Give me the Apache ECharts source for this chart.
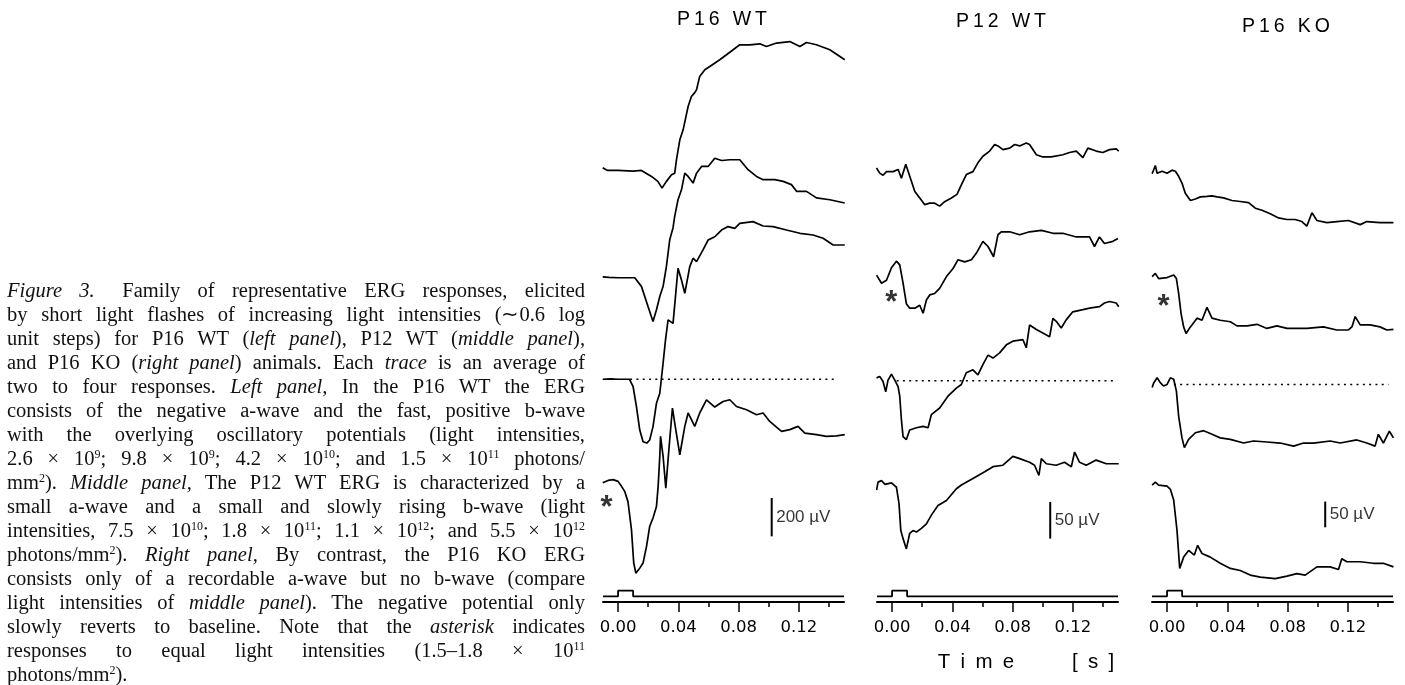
<!DOCTYPE html>
<html>
<head>
<meta charset="utf-8">
<title>ERG responses P16 WT / P12 WT / P16 KO</title>
<script src="https://cdn.jsdelivr.net/npm/echarts@6/dist/echarts.min.js"></script>
<style>
html, body { margin: 0; padding: 0; background: #fff; }
#chart { position: absolute; left: 0; top: 0; width: 1405px; height: 685px; }
#caption { position: absolute; left: 7px; top: 278px; width: 578px;
  font-family: "Liberation Serif", "Times New Roman", serif; font-size: 20.5px; line-height: 24px; color: #111; }
#caption div { height: 24px; text-align: justify; text-align-last: justify; }
#caption div.last { text-align-last: left; }
#caption sup { font-size: 12px; line-height: 0; vertical-align: 7px; }
</style>
</head>
<body>
<div id="chart"></div>
<div id="caption">
<div><i>Figure 3.</i>&ensp; Family of representative ERG responses, elicited</div>
<div>by short light flashes of increasing light intensities (∼0.6 log</div>
<div>unit steps) for P16 WT (<i>left panel</i>), P12 WT (<i>middle panel</i>),</div>
<div>and P16 KO (<i>right panel</i>) animals. Each <i>trace</i> is an average of</div>
<div>two to four responses. <i>Left panel,</i> In the P16 WT the ERG</div>
<div>consists of the negative a-wave and the fast, positive b-wave</div>
<div>with the overlying oscillatory potentials (light intensities,</div>
<div>2.6 × 10<sup>9</sup>; 9.8 × 10<sup>9</sup>; 4.2 × 10<sup>10</sup>; and 1.5 × 10<sup>11</sup> photons/</div>
<div>mm<sup>2</sup>). <i>Middle panel,</i> The P12 WT ERG is characterized by a</div>
<div>small a-wave and a small and slowly rising b-wave (light</div>
<div>intensities, 7.5 × 10<sup>10</sup>; 1.8 × 10<sup>11</sup>; 1.1 × 10<sup>12</sup>; and 5.5 × 10<sup>12</sup></div>
<div>photons/mm<sup>2</sup>). <i>Right panel,</i> By contrast, the P16 KO ERG</div>
<div>consists only of a recordable a-wave but no b-wave (compare</div>
<div>light intensities of <i>middle panel</i>). The negative potential only</div>
<div>slowly reverts to baseline. Note that the <i>asterisk</i> indicates</div>
<div>responses to equal light intensities (1.5–1.8 × 10<sup>11</sup></div>
<div class="last">photons/mm<sup>2</sup>).</div>
</div>
<script>
// time axis (ms), labels shown in s
var TIME_LABELS = [0, 40, 80, 120];
var TIME_MINOR = [20, 60, 100, 140];
var STIM_T = [-10, 0, 0, 10, 10, 150];
var STIM_V = [0, 0, 1, 1, 0, 0];

// traces: [ms, uV relative to the trace's own baseline], dimmest flash first

// P16 WT
var p16wtA = [[-10.2, 14], [-7, 0], [0, 0], [10, -3], [15.5, 0], [22.2, -31], [26.4, -57], [29.2, -92], [32.1, -57],
  [35.5, -22], [37.6, -14], [38.8, 56], [41, 160], [43.2, 212], [46.5, 334], [48.7, 386], [50.8, 405], [52.1, 421],
  [54.2, 491], [57.6, 526], [60.9, 543], [67.5, 578], [72, 604], [76.4, 630], [80.8, 656], [87.5, 656], [94.1, 661],
  [98.5, 647], [105.2, 665], [114, 673], [120.7, 647], [125.1, 668], [131.7, 656], [140.6, 630], [150.5, 578]];
var p16wtB = [[-10.2, 5], [-6, 2], [0, 0], [4.4, 0], [11.1, 0], [15.5, -45], [19.9, -150], [23.2, -228], [25.5, -167],
  [27.7, -98], [29.9, -45], [32.1, 59], [34.3, 198], [36.5, 261], [37.6, 320], [39.8, 407], [42.1, 459], [44.3, 546],
  [46.5, 529], [49.8, 494], [52.1, 546], [55.4, 581], [59.8, 581], [64.2, 624], [68.7, 612], [74.2, 616], [80.8, 616],
  [86.3, 564], [91.9, 529], [96.3, 512], [104.1, 512], [109.6, 503], [115.1, 486], [118.5, 451], [125.1, 451],
  [131.7, 417], [140.6, 407], [150.5, 390]];
var p16wtC = [[-10.2, 0], [-5, 2], [0, 0], [7.6, 0], [10, -39], [12.2, -143], [14.4, -265], [16.6, -326], [19.1, -333],
  [21, -317], [23.2, -247], [25.5, -125], [27.7, -73], [29.9, 84], [31.5, 206], [33.2, 310], [36.5, 292], [39.8, 579],
  [42.1, 518], [44.3, 449], [47.6, 588], [49.8, 632], [52.1, 614], [56.4, 675], [59.8, 727], [64.2, 744], [68.7, 779],
  [73, 797], [77.5, 788], [80.8, 814], [89.6, 823], [96.3, 800], [102.9, 797], [111.8, 779], [120.7, 762],
  [129.5, 753], [136.1, 736], [142.8, 701], [150.5, 701]];
var p16wtD = [[-10.2, 0], [-6.6, 12], [-3.3, 16], [0, 7], [2.3, -19], [4.4, -45], [6.6, -100], [8.9, -245],
  [10.4, -419], [11.8, -472], [14.4, -446], [16.6, -419], [18.9, -332], [21, -228], [23.2, -184], [25.5, -124],
  [26.6, -19], [27.7, 137], [28.2, 242], [29.9, 138], [31.7, -28], [33.9, 189], [36.1, 390], [38.3, 277], [41, 146],
  [44.3, 294], [46.5, 364], [50.9, 294], [54.2, 364], [58.7, 433], [64.2, 395], [69.7, 424], [74.2, 433], [78.6, 398],
  [85.3, 381], [91.9, 355], [96.3, 364], [100.7, 320], [108.5, 268], [114, 277], [119.5, 294], [124, 259],
  [131.7, 251], [138.4, 242], [145, 245], [150.5, 251]];
var p16wtOffsets = [2190, 1630, 1100, 560];

// P12 WT
var p12wtA = [[-10.3, 5], [-8.2, -2], [-6, -5], [-3.7, 0], [0.7, 0], [4, 3], [6.2, -9], [9.1, 10], [11.7, -6],
  [15.1, -27], [18.4, -36], [21.7, -45], [25, -43], [28.3, -43], [31.6, -47], [34.9, -41], [39.4, -36], [43.1, -31],
  [46, -18], [49.3, -4], [53.7, 0], [57, 12], [60.3, 21], [64.8, 28], [68.1, 37], [70.3, 35], [73.6, 30], [78.1, 32],
  [81.4, 37], [84.7, 35], [89.1, 39], [91.3, 37], [95.8, 23], [100.1, 20], [105.7, 20], [113.4, 23], [117.8, 26],
  [122.3, 28], [126.7, 19], [130, 32], [135.5, 28], [139.9, 26], [144.4, 30], [148.8, 31], [150.5, 28]];
var p12wtB = [[-10.3, 4], [-7, -7], [-3.7, -3], [-0.4, 14], [2.9, 23], [5.1, 18], [7.3, -7], [9.5, -35], [11.7, -41],
  [15.1, -41], [18.4, -37], [20.6, -48], [22.8, -30], [25, -23], [28.3, -21], [31.6, -14], [36.1, 2], [40.5, 13],
  [43.8, 25], [48.2, 22], [52.7, 25], [56, 34], [60.3, 50], [63.7, 43], [67.4, 29], [70.3, 59], [72.5, 63], [78.1, 63],
  [84.7, 59], [91.3, 63], [99.1, 65], [106.8, 61], [113.4, 61], [122.3, 56], [131.1, 56], [134.4, 43], [137.7, 56],
  [141, 47], [146.6, 50], [150, 54]];
var p12wtC = [[-10.3, 4], [-8.2, 6], [-6, -1], [-4.2, -15], [-2.7, 1], [-0.4, 9], [1.8, 1], [4, -8], [5.1, -21],
  [6.2, -53], [7.3, -76], [9.5, -80], [11.7, -67], [16.2, -64], [20.6, -62], [23.9, -64], [26.1, -46], [31.6, -37],
  [37.1, -21], [42.7, -10], [46, -5], [49.3, 11], [53.7, 15], [57, 8], [60.3, 22], [63.7, 35], [67, 31], [71.4, 38],
  [75.9, 49], [80.2, 54], [86.9, 56], [89.1, 45], [91.3, 76], [95.8, 70], [100.1, 65], [104.6, 60], [106.8, 85],
  [109, 81], [112.3, 72], [115.6, 83], [120, 94], [126.7, 97], [131.1, 99], [137.7, 101], [141, 106], [144.4, 108],
  [148.8, 106], [150.5, 101]];
var p12wtD = [[-10.3, -8], [-9.3, 3], [-7, 5], [-4.8, 0], [-0.4, 2], [2.9, -4], [4.6, -26], [5.8, -63], [7.3, -74],
  [9.5, -88], [11.7, -67], [13.9, -63], [16.2, -65], [19.5, -60], [22.8, -54], [26.1, -42], [30.5, -29], [36.1, -22],
  [42.7, -6], [46, -1], [53.7, 8], [61.5, 17], [67, 24], [73.6, 26], [80.2, 38], [84.7, 35], [91.3, 30], [94.6, 26],
  [97.5, 12], [99.1, 35], [102.4, 28], [109, 26], [114.5, 30], [119, 24], [121.2, 44], [124.5, 30], [128.9, 26],
  [135.5, 33], [142.2, 28], [150.5, 28]];
var p12wtOffsets = [570, 425, 285, 144];

// P16 KO
var p16koA = [[-9.9, -4], [-7.8, 12], [-6.6, -3], [-3.3, 1], [0, -3], [3.3, 3], [5.5, 1], [7.7, -9], [9.9, -22],
  [12.1, -42], [15.5, -56], [18.8, -53], [22.1, -49], [26.5, -48], [29.8, -47], [33.2, -49], [37.5, -51], [43.1, -56],
  [48.6, -58], [54.1, -60], [58.6, -71], [63, -75], [68.5, -82], [74, -90], [79.6, -93], [85.1, -93], [89.5, -97],
  [92.8, -106], [96.2, -80], [99.5, -95], [106.1, -99], [112.7, -97], [120.4, -95], [128.2, -103], [132.6, -97],
  [141.4, -99], [150.3, -99]];
var p16koB = [[-9.9, 1], [-7.8, 7], [-5.6, -3], [0, -1], [4.4, 4], [6.2, -3], [7.7, -32], [9.3, -71], [11, -97],
  [12.6, -110], [15.5, -97], [19.9, -80], [23.2, -84], [26.5, -59], [29.8, -80], [35.3, -84], [42, -87], [46.4, -95],
  [53.1, -95], [59.7, -92], [66.3, -100], [72.9, -95], [79.6, -100], [86.2, -100], [92.8, -100], [103.8, -97],
  [112.7, -103], [120.4, -103], [122.7, -97], [124.9, -77], [128.2, -93], [134.8, -93], [141.4, -97], [145.9, -103],
  [150.3, -102]];
var p16koC = [[-9.9, -6], [-8.9, 3], [-6.6, 13], [-4.4, 3], [-2.3, -3], [0, 0], [2.2, 13], [4.4, 10], [6.2, -13],
  [7.7, -62], [9.9, -104], [11.5, -123], [14.3, -107], [18.8, -94], [24.3, -90], [29.8, -97], [35.3, -104], [42, -107],
  [50.8, -114], [57.4, -110], [66.3, -112], [75.1, -114], [84, -120], [90.6, -114], [97.2, -114], [108.3, -110],
  [114.9, -114], [126, -108], [132.6, -114], [138.1, -120], [140.3, -97], [143.6, -114], [147.6, -91], [150.3, -104]];
var p16koD = [[-9.9, 2], [-7.8, 8], [-5.6, 2], [0, 0], [2.2, -6], [4.4, -27], [6.6, -86], [8.4, -160], [11, -138],
  [14.3, -125], [18.1, -134], [20.3, -115], [23.2, -131], [28.7, -138], [35.3, -150], [42, -160], [48.6, -164],
  [55.2, -173], [61.9, -177], [71.8, -180], [79.6, -175], [86.2, -170], [91.7, -173], [99.5, -157], [108.3, -157],
  [113.8, -162], [116, -141], [119.4, -147], [128.2, -147], [137, -150], [143.6, -150], [150.3, -157]];
var p16koOffsets = [814, 609, 400, 202];

// baseline (dotted) of the third trace: [from ms, to ms]
var dottedRanges = [[8, 145], [3, 148], [4.5, 147]];
// calibration bars: [ms, lower uV, length uV]
var scaleBars = [[102, 280, 200], [105, 70, 50], [105, 122, 50]];
var scaleTexts = ['200 µV', '50 µV', '50 µV'];
// asterisk: [ms, uV relative to the marked trace, index of that trace]
var starPos = [[-7.7, -107, 3], [-0.6, -28, 1], [-2.3, -50, 1]];
var titles = ['P16 WT', 'P12 WT', 'P16 KO'];

var panels = [
  { traces: [p16wtA, p16wtB, p16wtC, p16wtD], offsets: p16wtOffsets, left: 603, uvPerPx: 5.22 },
  { traces: [p12wtA, p12wtB, p12wtC, p12wtD], offsets: p12wtOffsets, left: 877, uvPerPx: 1.3624 },
  { traces: [p16koA, p16koB, p16koC, p16koD], offsets: p16koOffsets, left: 1152, uvPerPx: 1.946 }
];

var TOP = 30, HEIGHT = 560, WIDTH = 241;
var grid = [], xAxis = [], yAxis = [], series = [];

function timeLabel(v) {
  return (v / 1000).toFixed(2);
}

panels.forEach(function (p, i) {
  grid.push({ left: p.left, top: TOP, width: WIDTH, height: HEIGHT });
  grid.push({ left: p.left, top: 585, width: WIDTH, height: 17 });

  xAxis.push({ gridIndex: 2 * i, type: 'value', min: -10, max: 150, show: false });
  xAxis.push({
    gridIndex: 2 * i + 1, type: 'value', min: -10, max: 150, position: 'bottom',
    splitLine: { show: false },
    axisLine: { onZero: false, lineStyle: { color: '#000', width: 2 } },
    axisTick: { customValues: TIME_LABELS, length: 10, lineStyle: { color: '#000', width: 1.5 } },
    axisLabel: { customValues: TIME_LABELS, formatter: timeLabel, margin: 17, color: '#000',
      fontFamily: 'DejaVu Sans', fontSize: 16.5 }
  });
  xAxis.push({
    gridIndex: 2 * i + 1, type: 'value', min: -10, max: 150, position: 'bottom',
    splitLine: { show: false },
    axisLine: { show: false, onZero: false },
    axisTick: { customValues: TIME_MINOR, length: 5, lineStyle: { color: '#000', width: 1.5 } },
    axisLabel: { show: false }
  });
  yAxis.push({ gridIndex: 2 * i, type: 'value', min: 0, max: HEIGHT * p.uvPerPx, show: false });
  yAxis.push({ gridIndex: 2 * i + 1, type: 'value', min: -1, max: 2, show: false });

  var xi = 3 * i, yi = 2 * i;
  p.traces.forEach(function (tr, k) {
    series.push({
      type: 'line', xAxisIndex: xi, yAxisIndex: yi, symbol: 'none',
      data: tr.map(function (d) { return [d[0], d[1] + p.offsets[k]]; }),
      lineStyle: { color: '#000', width: 1.7 }
    });
  });

  series.push({
    type: 'line', xAxisIndex: xi, yAxisIndex: yi, symbol: 'none',
    data: [[dottedRanges[i][0], p.offsets[2]], [dottedRanges[i][1], p.offsets[2]]],
    lineStyle: { color: '#000', width: 1.5, type: [2, 4.3] }
  });

  var b = scaleBars[i];
  series.push({
    type: 'line', xAxisIndex: xi, yAxisIndex: yi, symbol: 'none',
    data: [[b[0], b[1]], [b[0], b[1] + b[2]]],
    lineStyle: { color: '#000', width: 2 }
  });
  series.push({
    type: 'scatter', xAxisIndex: xi, yAxisIndex: yi, symbolSize: 1,
    itemStyle: { color: 'rgba(0,0,0,0)' },
    data: [[b[0], b[1] + b[2] / 2]],
    label: { show: true, position: 'right', distance: 4, formatter: scaleTexts[i], color: '#000',
      fontFamily: 'Liberation Sans', fontSize: 17 }
  });

  var s = starPos[i];
  series.push({
    type: 'scatter', xAxisIndex: xi, yAxisIndex: yi, symbolSize: 1,
    itemStyle: { color: 'rgba(0,0,0,0)' },
    data: [[s[0], p.offsets[s[2]] + s[1]]],
    label: { show: true, position: 'inside', formatter: '*', offset: [0, 5], color: '#000',
      fontFamily: 'Liberation Sans', fontWeight: 'bold', fontSize: 31 }
  });

  series.push({
    type: 'line', xAxisIndex: xi + 1, yAxisIndex: yi + 1, symbol: 'none',
    data: STIM_T.map(function (t, j) { return [t, STIM_V[j]]; }),
    lineStyle: { color: '#000', width: 1.8 }
  });
});

function spaced(str, sp) {
  return str.split('').join(sp);
}

var titleX = [722, 1001, 1286];
var titleY = [20, 22, 27];
var graphic = titles.map(function (t, i) {
  return {
    type: 'text', x: titleX[i], y: titleY[i],
    style: { text: spaced(t, '\u2009'), fill: '#000', font: '19.5px "Liberation Sans"', align: 'center', verticalAlign: 'middle' }
  };
});
graphic.push({
  type: 'text', x: 976, y: 662,
  style: { text: spaced('Time', '\u2002'), fill: '#000', font: '20.5px "Liberation Sans"', align: 'center', verticalAlign: 'middle' }
});
graphic.push({
  type: 'text', x: 1093, y: 662,
  style: { text: spaced('[s]', '\u2002'), fill: '#000', font: '20.5px "Liberation Sans"', align: 'center', verticalAlign: 'middle' }
});

var chart = echarts.init(document.getElementById('chart'));
chart.setOption({
  animation: false,
  backgroundColor: '#fff',
  grid: grid,
  xAxis: xAxis,
  yAxis: yAxis,
  series: series,
  graphic: graphic
});
</script>
</body>
</html>
